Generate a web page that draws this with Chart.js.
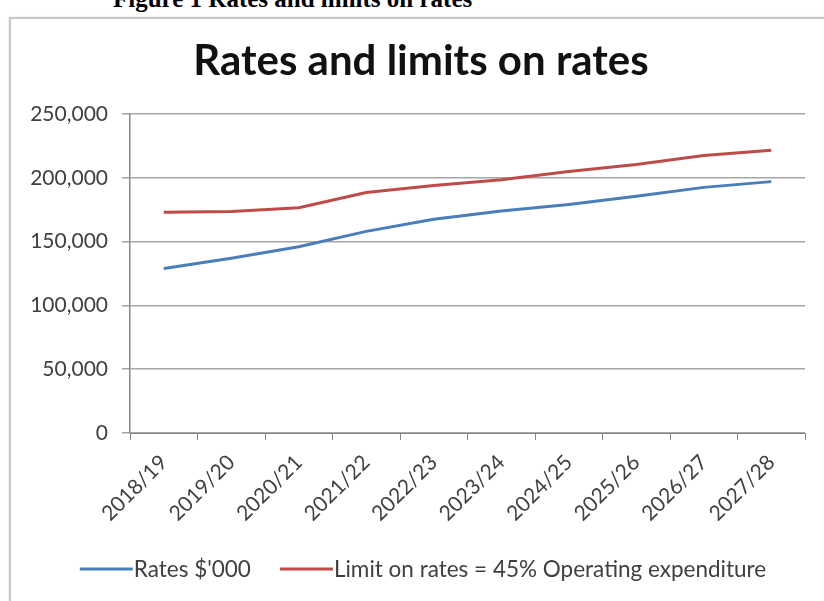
<!DOCTYPE html>
<html>
<head>
<meta charset="utf-8">
<title>Rates and limits on rates</title>
<script src="https://cdn.jsdelivr.net/npm/chart.js@4/dist/chart.umd.min.js"></script>
<style>
    html, body { margin: 0; padding: 0; background: #ffffff; }
    #page { position: relative; width: 824px; height: 601px; overflow: hidden; }
    #caption {
        position: absolute; left: 113px; top: -15px;
        font-family: "Liberation Serif", "Times New Roman", serif;
        font-weight: bold; font-size: 25px; color: #000; white-space: nowrap;
    }
    #frame {
        position: absolute; left: 9px; top: 17px; width: 840px; height: 620px;
        border: 2px solid #c6c6c6; box-shadow: 0 0 2px #d8d8d8;
    }
    #chartBox { position: absolute; left: 0; top: 0; width: 824px; height: 601px; }
</style>
</head>
<body>
<div id="page">
    <div id="caption">Figure 1 Rates and limits on rates</div>
    <div id="frame"></div>
    <div id="chartBox"><canvas id="ratesChart" width="824" height="601"></canvas></div>
</div>
<script>
// Financial years shown on the x axis
const years = ['2018/19', '2019/20', '2020/21', '2021/22', '2022/23',
               '2023/24', '2024/25', '2025/26', '2026/27', '2027/28'];

// Rates income ($'000)
const ratesValues = [129000, 137000, 146000, 158000, 167500,
                     174000, 179000, 185500, 192500, 197000];

// Limit on rates = 45% of operating expenditure ($'000)
const limitValues = [173000, 173500, 176500, 188500, 194000,
                     198500, 205000, 210500, 217500, 221500];

// Y axis tick values
const yTicks = [0, 50000, 100000, 150000, 200000, 250000];

const chartTitle = 'Rates and limits on rates';
const seriesNames = ["Rates $'000", 'Limit on rates = 45% Operating expenditure'];
const seriesColors = ['#4a7ebb', '#be4b48'];

const labelFont = '"Lato", "Open Sans", sans-serif';
const textColor = '#404040';

// Title centred over the frame rather than the canvas
const frameTitle = {
    id: 'frameTitle',
    afterDraw(chart) {
        const ctx = chart.ctx;
        ctx.save();
        ctx.font = 'bold 42px ' + labelFont;
        ctx.fillStyle = '#111111';
        ctx.textAlign = 'center';
        ctx.textBaseline = 'alphabetic';
        ctx.fillText(chartTitle, 421, 75);
        ctx.restore();
    }
};

// Draws the Excel style legend: line sample touching the text
const bottomLegend = {
    id: 'bottomLegend',
    afterDraw(chart) {
        const ctx = chart.ctx;
        const y = 569;
        const lineLen = 53;
        const gap = 29;
        ctx.save();
        ctx.font = '22.5px ' + labelFont;
        ctx.textBaseline = 'middle';
        ctx.textAlign = 'left';
        const items = chart.data.datasets.map(ds => ({
            text: ds.label,
            color: ds.borderColor,
            width: lineLen + 1 + ctx.measureText(ds.label).width
        }));
        const total = items.reduce((s, it) => s + it.width, 0) + gap * (items.length - 1);
        let x = 423 - total / 2;
        items.forEach(it => {
            ctx.strokeStyle = it.color;
            ctx.lineWidth = 3;
            ctx.beginPath();
            ctx.moveTo(x, y);
            ctx.lineTo(x + lineLen, y);
            ctx.stroke();
            ctx.fillStyle = textColor;
            ctx.fillText(it.text, x + lineLen + 1, y + 1);
            x += it.width + gap;
        });
        ctx.restore();
    }
};

const ctx = document.getElementById('ratesChart').getContext('2d');
new Chart(ctx, {
    type: 'line',
    data: {
        labels: years,
        datasets: [
            {
                label: seriesNames[0],
                data: ratesValues,
                borderColor: seriesColors[0],
                backgroundColor: seriesColors[0],
                borderWidth: 3,
                pointRadius: 0,
                tension: 0
            },
            {
                label: seriesNames[1],
                data: limitValues,
                borderColor: seriesColors[1],
                backgroundColor: seriesColors[1],
                borderWidth: 3,
                pointRadius: 0,
                tension: 0
            }
        ]
    },
    options: {
        responsive: false,
        animation: false,
        layout: { padding: { left: 0, right: 19, top: 114, bottom: 0 } },
        plugins: {
            legend: { display: false },
            tooltip: { enabled: false },
            title: { display: false }
        },
        scales: {
            x: {
                offset: true,
                grid: {
                    offset: true,
                    drawOnChartArea: false,
                    drawTicks: true,
                    tickLength: 7,
                    color: '#868686'
                },
                border: { color: '#868686', width: 1 },
                ticks: {
                    minRotation: 45,
                    maxRotation: 45,
                    padding: 10,
                    color: textColor,
                    font: { family: labelFont, size: 21 }
                },
                afterFit(scale) { scale.height = 601 - 433; }
            },
            y: {
                min: yTicks[0],
                max: yTicks[yTicks.length - 1],
                afterBuildTicks(scale) { scale.ticks = yTicks.map(v => ({ value: v })); },
                grid: {
                    color: '#a6a6a6',
                    lineWidth: 1.5,
                    drawTicks: true,
                    tickLength: 8
                },
                border: { color: '#868686', width: 1.5 },
                ticks: {
                    padding: 14,
                    color: textColor,
                    font: { family: labelFont, size: 21 },
                    callback: v => v.toLocaleString('en-US')
                },
                afterFit(scale) { scale.width = 130; }
            }
        }
    },
    plugins: [frameTitle, bottomLegend]
});
</script>
</body>
</html>
